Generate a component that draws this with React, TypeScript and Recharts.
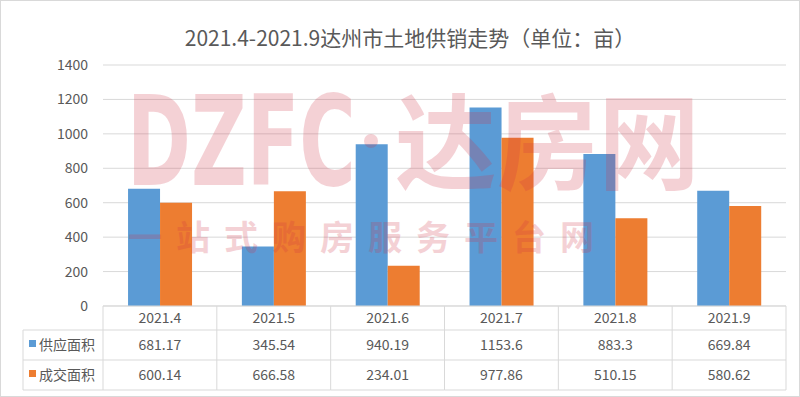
import React from 'react';
import { BarChart, Bar, XAxis, YAxis, CartesianGrid } from 'recharts';

const months = ['2021.4', '2021.5', '2021.6', '2021.7', '2021.8', '2021.9'];
const supply = [681.17, 345.54, 940.19, 1153.6, 883.3, 669.84];
const deal = [600.14, 666.58, 234.01, 977.86, 510.15, 580.62];
const seriesNames = ['供应面积', '成交面积'];
const yTicks = [0, 200, 400, 600, 800, 1000, 1200, 1400];

const data = months.map((m, i) => ({ name: m, supply: supply[i], deal: deal[i] }));

const W = 800;
const H = 397;
const plotLeft = 103;
const plotRight = 786;
const colW = (plotRight - plotLeft) / months.length;
const rowY = [306, 330, 360, 390];
const textColor = '#595959';
const lineColor = '#D9D9D9';
const font = '"Noto Sans CJK SC", "Noto Sans", sans-serif';
const blue = '#5B9BD5';
const orange = '#ED7D31';

const TableTick = (props: any) => {
  const { x, index, payload } = props;
  const left = x - colW / 2;
  const i = index;
  return (
    <g>
      <line x1={left} y1={rowY[0]} x2={left} y2={rowY[3]} stroke={lineColor} />
      {i === months.length - 1 && (
        <line x1={left + colW} y1={rowY[0]} x2={left + colW} y2={rowY[3]} stroke={lineColor} />
      )}
      {i === 0 && (
        <g>
          <line x1={23} y1={rowY[1]} x2={23} y2={rowY[3]} stroke={lineColor} />
          <line x1={23} y1={rowY[1]} x2={plotLeft} y2={rowY[1]} stroke={lineColor} />
          <line x1={23} y1={rowY[2]} x2={plotLeft} y2={rowY[2]} stroke={lineColor} />
          <line x1={23} y1={rowY[3]} x2={plotLeft} y2={rowY[3]} stroke={lineColor} />
          <rect x={29} y={340} width={7} height={7} fill={blue} />
          <text x={39} y={350} fontSize={14} fill={textColor} fontFamily={font}>{seriesNames[0]}</text>
          <rect x={29} y={370} width={7} height={7} fill={orange} />
          <text x={39} y={380} fontSize={14} fill={textColor} fontFamily={font}>{seriesNames[1]}</text>
        </g>
      )}
      <line x1={left} y1={rowY[1]} x2={left + colW} y2={rowY[1]} stroke={lineColor} />
      <line x1={left} y1={rowY[2]} x2={left + colW} y2={rowY[2]} stroke={lineColor} />
      <line x1={left} y1={rowY[3]} x2={left + colW} y2={rowY[3]} stroke={lineColor} />
      <text x={x} y={323} textAnchor="middle" fontSize={14} fill={textColor} fontFamily={font}>{payload.value}</text>
      <text x={x} y={350} textAnchor="middle" fontSize={14} fill={textColor} fontFamily={font}>{supply[i]}</text>
      <text x={x} y={380} textAnchor="middle" fontSize={14} fill={textColor} fontFamily={font}>{deal[i]}</text>
    </g>
  );
};

const wmFill = 'rgb(210,50,70)';
const subChars = ['一', '站', '式', '购', '房', '服', '务', '平', '台', '网'];

const App: React.FC = () => {
  return (
    <div style={{ position: 'absolute', left: 0, top: 0, width: W, height: H, background: '#fff', fontFamily: font }}>
      <div style={{ position: 'absolute', left: 0, top: 0, width: W - 2, height: H - 2, border: `1px solid ${lineColor}` }} />
      <div style={{ position: 'absolute', left: 0, top: 22, width: W + 20, textAlign: 'center', fontSize: 21, color: textColor, fontFamily: font }}>
        2021.4-2021.9达州市土地供销走势（单位：亩）
      </div>
      <BarChart
        width={W}
        height={H}
        data={data}
        margin={{ top: 65, right: W - plotRight, bottom: 7, left: 0 }}
        barCategoryGap="22%"
        barGap={0}
      >
        <CartesianGrid vertical={false} stroke={lineColor} />
        <XAxis
          dataKey="name"
          axisLine={{ stroke: lineColor }}
          tickLine={false}
          tickSize={0}
          tickMargin={0}
          interval={0}
          height={H - rowY[0] - 7}
          tick={(p: any) => <TableTick {...p} />}
        />
        <YAxis
          width={plotLeft}
          domain={[0, 1400]}
          ticks={yTicks}
          axisLine={false}
          tickLine={false}
          tickSize={0}
          tickMargin={15}
          tick={{ fontSize: 14, fill: textColor, fontFamily: font }}
        />
        <Bar dataKey="supply" fill={blue} isAnimationActive={false} />
        <Bar dataKey="deal" fill={orange} isAnimationActive={false} />
      </BarChart>
      <svg width={W} height={H} style={{ position: 'absolute', left: 0, top: 0, pointerEvents: 'none' }}>
        <g fill={wmFill} opacity={0.22}>
          <text
            transform="translate(127,185) scale(0.69,1)"
            fontSize={124}
            fontWeight="bold"
            fontFamily='"DejaVu Sans Condensed", "DejaVu Sans", sans-serif'
          >
            DZFC
          </text>
          <circle cx={371} cy={141} r={7} />
          <text x={395} y={182} fontSize={104} fontWeight="bold" fontFamily={font} textLength={305} lengthAdjust="spacingAndGlyphs">达房网</text>
          {subChars.map((c, i) => (
            <text key={i} x={145 + i * 48} y={250} fontSize={34} fontWeight="bold" textAnchor="middle" fontFamily={font}>{c}</text>
          ))}
        </g>
      </svg>
    </div>
  );
};

export default App;
